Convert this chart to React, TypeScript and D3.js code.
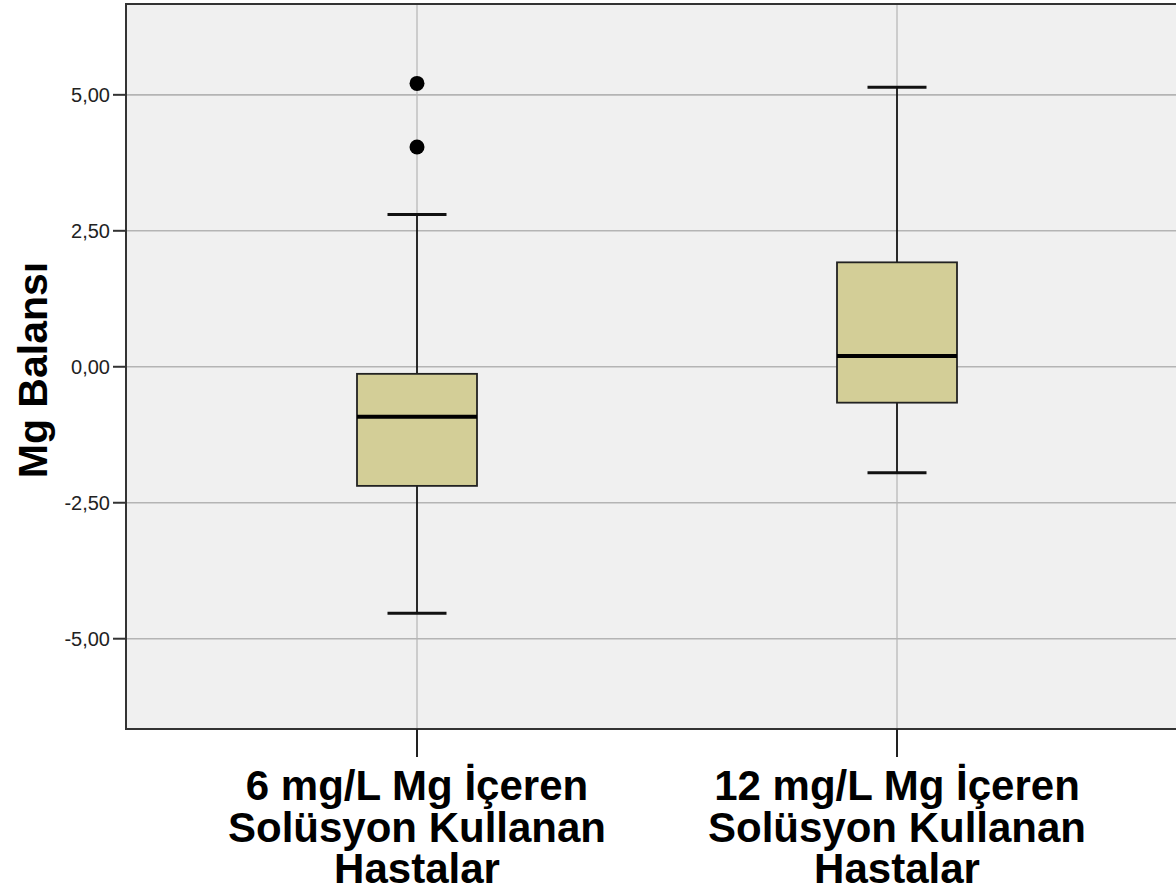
import React from "react";
import * as d3 from "d3";

const categories = ["g6", "g12"];
const categoryLabels = [
  ["6 mg/L Mg İçeren", "Solüsyon Kullanan", "Hastalar"],
  ["12 mg/L Mg İçeren", "Solüsyon Kullanan", "Hastalar"],
];
const whiskerLow = [-4.53, -1.95];
const q1 = [-2.19, -0.66];
const median = [-0.92, 0.2];
const q3 = [-0.13, 1.92];
const whiskerHigh = [2.8, 5.14];
const outliers = [[5.21, 4.04], []];
const yTicks = [-5, -2.5, 0, 2.5, 5];
const yTickLabels = ["-5,00", "-2,50", "0,00", "2,50", "5,00"];
const yTitle = "Mg Balansı";

const W = 1176;
const H = 892;
const left = 126;
const right = 1188;
const top = 4;
const bottom = 729;
const font = "'Liberation Sans', Arial, Helvetica, sans-serif";

export default function App() {
  const x = d3.scalePoint<string>().domain(categories).range([left, right]).padding(0.60625);
  const y = d3.scaleLinear().domain([-6.66, 6.67]).range([bottom, top]);
  const boxW = 120;
  const capW = 59;

  return (
    <div style={{ position: "absolute", left: 0, top: 0 }}>
      <svg width={W} height={H} style={{ display: "block", background: "#fff" }}>
        <rect x={left} y={top} width={right - left} height={bottom - top} fill="#f0f0f0" />
        {yTicks.map((t, i) => (
          <line key={"g" + i} x1={left} x2={right} y1={y(t)} y2={y(t)} stroke="#b4b4b4" strokeWidth={1.6} />
        ))}
        {categories.map((c) => (
          <line key={"v" + c} x1={x(c)} x2={x(c)} y1={top} y2={bottom} stroke="#b4b4b4" strokeWidth={1.2} />
        ))}
        {categories.map((c, i) => {
          const cx = x(c)!;
          return (
            <g key={"b" + c}>
              <line x1={cx} x2={cx} y1={y(whiskerHigh[i])} y2={y(q3[i])} stroke="#000" strokeWidth={1.6} />
              <line x1={cx} x2={cx} y1={y(q1[i])} y2={y(whiskerLow[i])} stroke="#000" strokeWidth={1.6} />
              <line x1={cx - capW / 2} x2={cx + capW / 2} y1={y(whiskerHigh[i])} y2={y(whiskerHigh[i])} stroke="#111" strokeWidth={3} />
              <line x1={cx - capW / 2} x2={cx + capW / 2} y1={y(whiskerLow[i])} y2={y(whiskerLow[i])} stroke="#111" strokeWidth={3} />
              <rect x={cx - boxW / 2} y={y(q3[i])} width={boxW} height={y(q1[i]) - y(q3[i])} fill="#d3ce97" stroke="#222" strokeWidth={1.8} />
              <line x1={cx - boxW / 2} x2={cx + boxW / 2} y1={y(median[i])} y2={y(median[i])} stroke="#000" strokeWidth={4} />
              {outliers[i].map((o, j) => (
                <circle key={j} cx={cx} cy={y(o)} r={7.5} fill="#000" />
              ))}
            </g>
          );
        })}
        <rect x={left} y={top} width={right - left} height={bottom - top} fill="none" stroke="#333" strokeWidth={2} />
        {yTicks.map((t, i) => (
          <g key={"t" + i}>
            <line x1={113} x2={left} y1={y(t)} y2={y(t)} stroke="#333" strokeWidth={2} />
            <text x={110} y={y(t)} dy="0.35em" textAnchor="end" fontFamily={font} fontSize={20} fill="#222">
              {yTickLabels[i]}
            </text>
          </g>
        ))}
        {categories.map((c, i) => (
          <g key={"x" + c}>
            <line x1={x(c)} x2={x(c)} y1={bottom} y2={757} stroke="#222" strokeWidth={2} />
            {categoryLabels[i].map((ln, j) => (
              <text key={j} x={x(c)} y={800 + j * 41.5} textAnchor="middle" fontFamily={font} fontWeight="bold" fontSize={42} fill="#000">
                {ln}
              </text>
            ))}
          </g>
        ))}
        <text transform={`translate(47, 370) rotate(-90)`} textAnchor="middle" fontFamily={font} fontWeight="bold" fontSize={41} fill="#000">
          {yTitle}
        </text>
      </svg>
    </div>
  );
}
